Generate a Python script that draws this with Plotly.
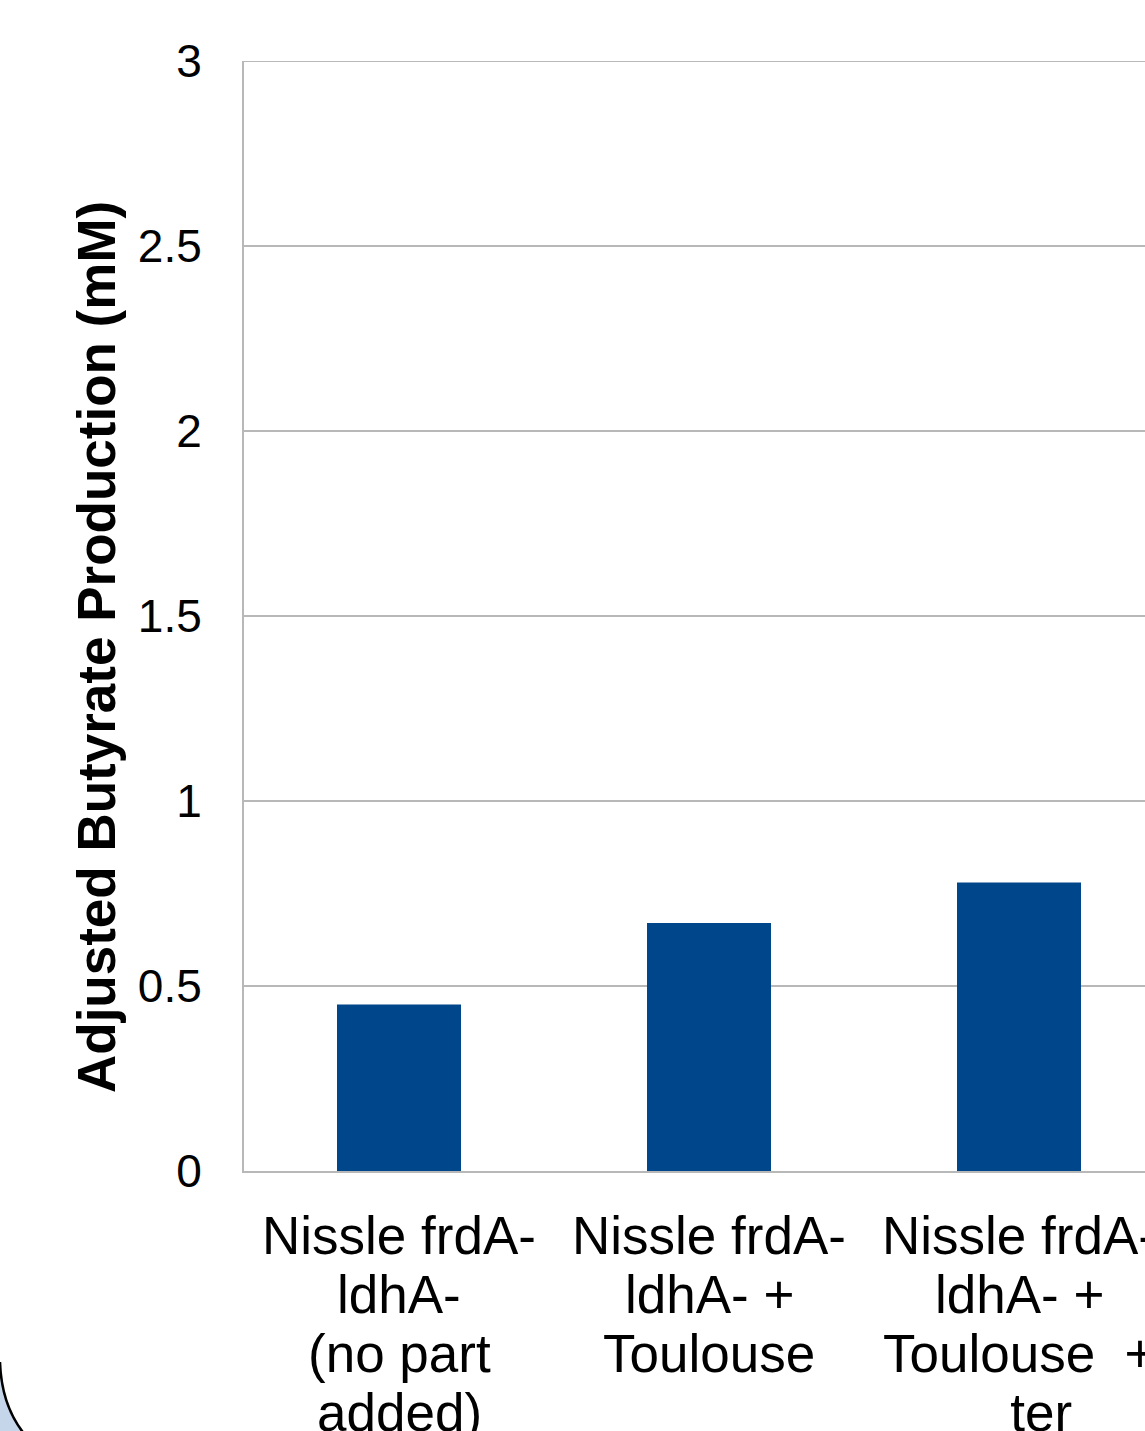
import plotly.graph_objects as go

# Butyrate production per strain construct
categories = ["no_part", "toulouse", "toulouse_ter"]
label_lines = [
    ["Nissle frdA-", "ldhA-", "(no part", "added)"],
    ["Nissle frdA-", "ldhA- +", "Toulouse"],
    ["Nissle frdA-", "ldhA- +", "Toulouse  +", "   ter"],
]
butyrate_mM = [0.45, 0.67, 0.78]
y_ticks = [0, 0.5, 1, 1.5, 2, 2.5, 3]
y_tick_text = ["0", "0.5", "1", "1.5", "2", "2.5", "3"]
y_title = "Adjusted Butyrate Production (mM)"

W, H = 1145, 1431
ML, MT, MB, MR = 244, 61, 260, 0
PW, PH = W - ML - MR, H - MT - MB
SLOT = 310  # pixels per category slot

BAR = "#00468A"
GRID = "#B8B8B8"
FONT = "Arial, Liberation Sans, sans-serif"


def px_x(px):
    return (px - ML) / PW


def px_y(py):
    return (H - MB - py) / PH


fig = go.Figure(
    go.Bar(
        x=categories,
        y=butyrate_mM,
        width=0.4,
        marker=dict(color=BAR, line=dict(width=0)),
        showlegend=False,
    )
)

# multi-line category labels, one annotation per line for tight spacing
line_gap = 59
first_baseline = 1253
annotations = []
for cat, lines in zip(categories, label_lines):
    for i, ln in enumerate(lines):
        base = first_baseline + i * line_gap
        annotations.append(
            dict(
                x=cat, xref="x",
                y=px_y(base - 18), yref="paper",
                text=ln, showarrow=False,
                xanchor="center", yanchor="middle",
                font=dict(family=FONT, size=53, color="black"),
            )
        )

annotations.append(
    dict(
        x=px_x(97), xref="paper",
        y=px_y(647), yref="paper",
        text="<b>" + y_title + "</b>", showarrow=False,
        textangle=-90, xanchor="center", yanchor="middle",
        font=dict(family=FONT, size=53, color="black"),
    )
)

# light-blue corner shape with dark outline
def curve_path(pts, close=False):
    p = f"M {px_x(pts[0][0])},{px_y(pts[0][1])} C " + " ".join(
        f"{px_x(a)},{px_y(b)}" for a, b in pts[1:4]
    )
    if close:
        p += f" L {px_x(-5)},{px_y(1440)} L {px_x(-5)},{px_y(pts[0][1])} Z"
    return p

corner = [(0, 1362), (1, 1392), (9, 1416), (26, 1436)]
shapes = [
    # top gridline at the upper edge of the value range
    dict(type="line", xref="paper", yref="y", x0=0, x1=1, y0=y_ticks[-1], y1=y_ticks[-1],
         line=dict(color=GRID, width=2), layer="above"),
    dict(type="path", xref="paper", yref="paper", path=curve_path(corner, True),
         fillcolor="#C5D5EA", line=dict(width=0), layer="above"),
    dict(type="path", xref="paper", yref="paper", path=curve_path(corner),
         fillcolor="rgba(0,0,0,0)", line=dict(color="black", width=2.5), layer="above"),
]

fig.update_layout(
    width=W, height=H,
    margin=dict(l=ML, r=MR, t=MT, b=MB, pad=0),
    paper_bgcolor="white", plot_bgcolor="white",
    bargap=0.6,
    annotations=annotations,
    shapes=shapes,
    xaxis=dict(
        type="category",
        range=[-0.5, -0.5 + PW / SLOT],
        showticklabels=False, ticks="",
        showgrid=False, zeroline=False,
        showline=True, linecolor=GRID, linewidth=2,
    ),
    yaxis=dict(
        range=[0, 3],
        tickvals=y_ticks, ticktext=y_tick_text,
        tickfont=dict(family=FONT, size=46, color="black"),
        ticks="", ticklabelstandoff=31,
        showgrid=True, gridcolor=GRID, gridwidth=2,
        zeroline=False,
        showline=True, linecolor=GRID, linewidth=2,
    ),
)

fig.write_html("out.html")
